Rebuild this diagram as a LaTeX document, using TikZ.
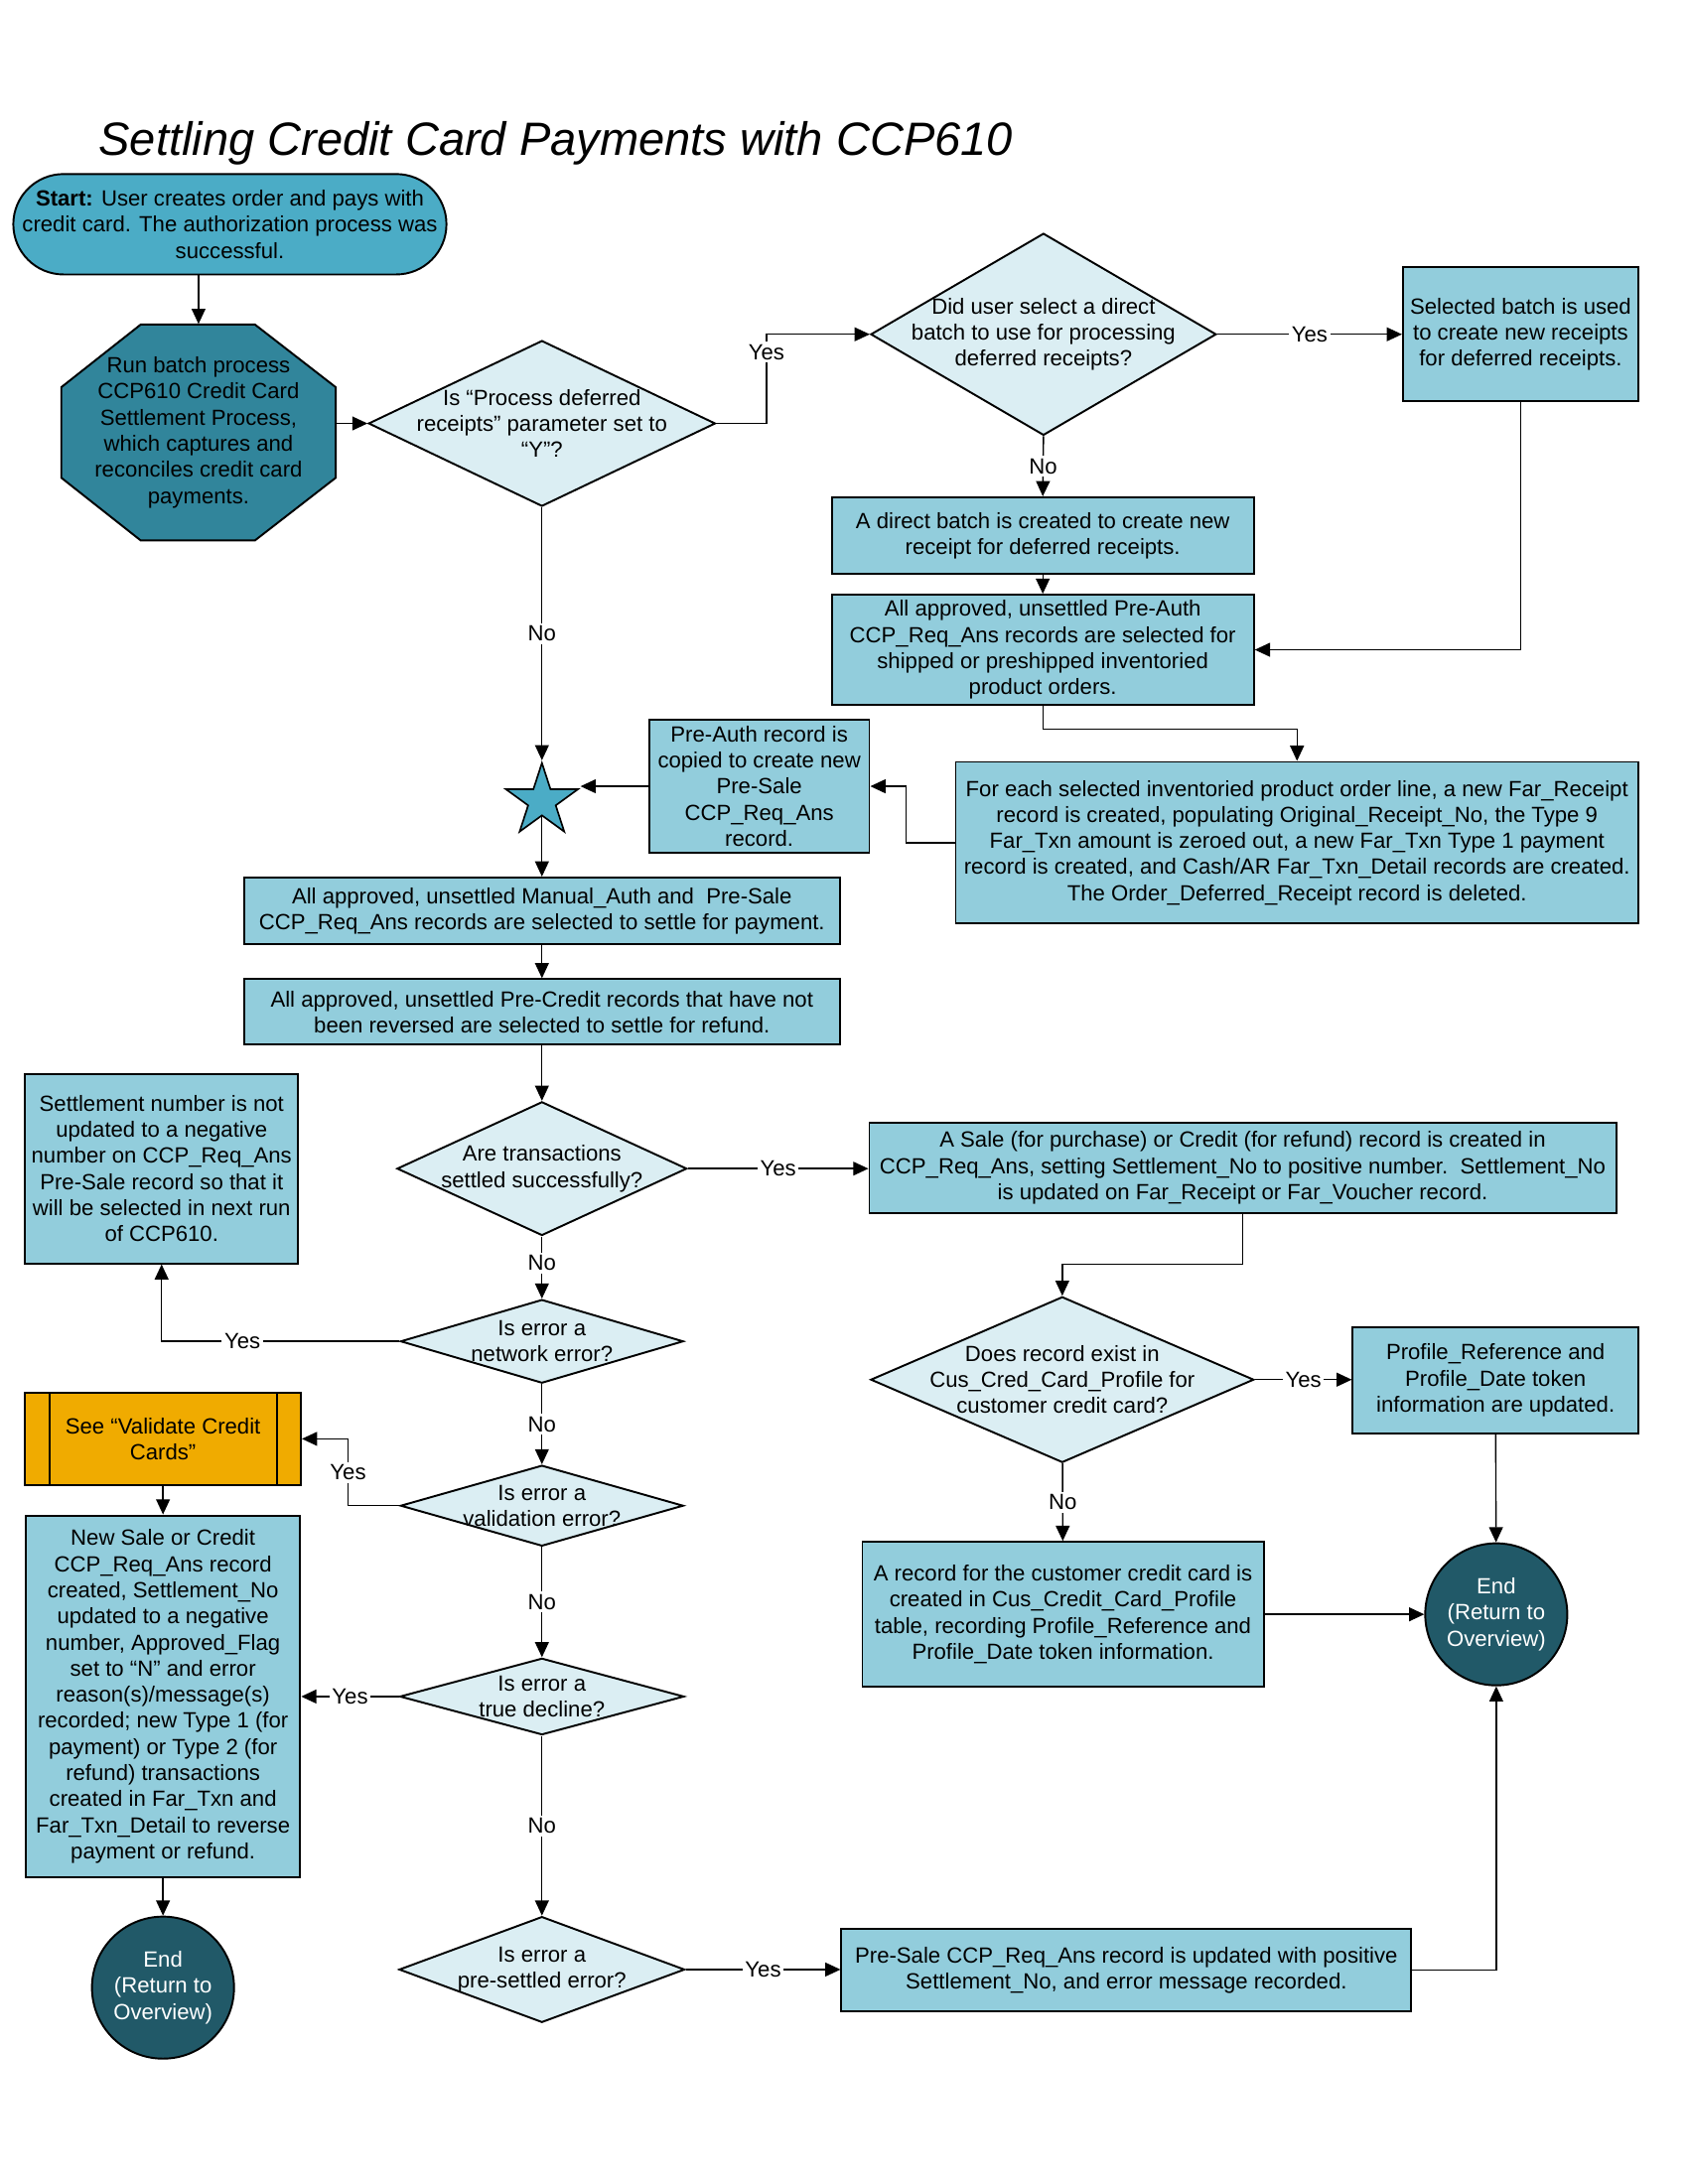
\documentclass[tikz,border=0pt]{standalone}
\usepackage{fontspec}
\setmainfont{Liberation Sans}
\usetikzlibrary{shapes.geometric,arrows.meta,positioning,calc}
\definecolor{startblue}{RGB}{75,172,198}
\definecolor{runteal}{RGB}{49,133,155}
\definecolor{procblue}{RGB}{146,205,220}
\definecolor{decfill}{RGB}{219,238,243}
\definecolor{endteal}{RGB}{33,89,104}
\definecolor{subgold}{RGB}{240,171,0}

\begin{document}
\begin{tikzpicture}[x=0.505bp, y=-0.505bp,
    every node/.style={font=\fontsize{8}{9.5}\selectfont, align=center},
    proc/.style 2 args={draw, fill=procblue, line width=0.7pt, inner sep=0pt,
        minimum width=#1*0.505bp, minimum height=#2*0.505bp},
    dec/.style 2 args={diamond, draw, fill=decfill, line width=0.7pt, inner sep=0pt,
        minimum width=#1*0.505bp, minimum height=#2*0.505bp},
    endc/.style={circle, draw, fill=endteal, text=white, line width=0.7pt,
        inner sep=0pt, minimum size=51.5bp},
    flow/.style={-{Triangle[length=5.5bp,width=5bp]}, line width=0.5pt},
    lbl/.style={fill=white, inner sep=1pt}]

\useasboundingbox (0,0) rectangle (1212,1568);

% Title
\node[anchor=west, font=\fontsize{17}{20}\selectfont\itshape] (title) at (64,103)
    {Settling Credit Card Payments with CCP610};

% Start terminal
\node[draw, fill=startblue, rounded corners=18.2bp, line width=0.7pt, inner sep=0pt,
    minimum width=157bp, minimum height=36.4bp] (start) at (165,161)
    {\textbf{Start:} User creates order and pays with\\credit card. The authorization process was\\successful.};

% Batch run (octagon)
\filldraw[fill=runteal, line width=0.7pt] (44,278) -- (101,233) -- (183,233) -- (241,278)
    -- (241,343) -- (183,388) -- (101,388) -- (44,343) -- cycle;
\node[inner sep=0pt, minimum width=99.5bp, minimum height=78.3bp] (run) at (142.5,310.5)
    {Run batch process\\CCP610 Credit Card\\Settlement Process,\\which captures and\\reconciles credit card\\payments.};

% Deferred receipts branch
\node[dec={249}{119}] (d1) at (389,304) {};
\node (d1t) at (d1) {Is “Process deferred\\receipts” parameter set to\\“Y”?};
\node[dec={248}{145}] (d2) at (749,240) {};
\node (d2t) at (d2) {Did user select a direct\\batch to use for processing\\deferred receipts?};
\node[proc={169}{96}] (sel) at (1091.5,240) {Selected batch is used\\to create new receipts\\for deferred receipts.};
\node[proc={303}{55}] (boxA) at (748.5,384.5) {A direct batch is created to create new\\receipt for deferred receipts.};
\node[proc={303}{79}] (boxB) at (748.5,466.5) {All approved, unsettled Pre-Auth\\CCP\_Req\_Ans records are selected for\\shipped or preshipped inventoried\\product orders.};
\node[proc={490}{116}] (foreach) at (931,605)
    {For each selected inventoried product order line, a new Far\_Receipt\\record is created, populating Original\_Receipt\_No, the Type 9\\Far\_Txn amount is zeroed out, a new Far\_Txn Type 1 payment\\record is created, and Cash/AR Far\_Txn\_Detail records are created.\\The Order\_Deferred\_Receipt record is deleted.};
\node[proc={158}{95}] (preauth) at (545,564.5) {Pre-Auth record is\\copied to create new\\Pre-Sale\\CCP\_Req\_Ans\\record.};
\node[star, star points=5, star point ratio=2.618, draw, fill=startblue, line width=0.6pt,
    inner sep=0pt, minimum size=27.5bp] (star) at (389,575) {};

% Settlement
\node[proc={428}{48}] (boxC) at (389,654) {All approved, unsettled Manual\_Auth and\ \ Pre-Sale\\CCP\_Req\_Ans records are selected to settle for payment.};
\node[proc={428}{47}] (boxD) at (389,726.5) {All approved, unsettled Pre-Credit records that have not\\been reversed are selected to settle for refund.};
\node[dec={208}{96}] (d3) at (389,839) {};
\node (d3t) at (d3) {Are transactions\\settled successfully?};
\node[proc={536}{65}] (boxE) at (892,838.5)
    {A Sale (for purchase) or Credit (for refund) record is created in\\CCP\_Req\_Ans, setting Settlement\_No to positive number.\ \ Settlement\_No\\is updated on Far\_Receipt or Far\_Voucher record.};
\node[dec={275}{119}] (d5) at (762.5,990.5) {};
\node (d5t) at (d5) {Does record exist in\\Cus\_Cred\_Card\_Profile for\\customer credit card?};
\node[proc={205}{76}] (boxF) at (1073.5,991) {Profile\_Reference and\\Profile\_Date token\\information are updated.};
\node[endc] (end1) at (1074,1159) {End\\(Return to\\Overview)};
\node[proc={288}{104}] (boxG) at (763,1159) {A record for the customer credit card is\\created in Cus\_Credit\_Card\_Profile\\table, recording Profile\_Reference and\\Profile\_Date token information.};

% Error checks
\node[dec={203}{60}] (d6) at (389,963) {};
\node (d6t) at (d6) {Is error a\\network error?};
\node[proc={196}{136}] (boxH) at (116,839) {Settlement number is not\\updated to a negative\\number on CCP\_Req\_Ans\\Pre-Sale record so that it\\will be selected in next run\\of CCP610.};
\node[dec={203}{58}] (d7) at (389,1081) {};
\node (d7t) at (d7) {Is error a\\validation error?};
\node[draw, fill=subgold, line width=0.7pt, inner sep=0pt, minimum width=100bp,
    minimum height=33.3bp] (boxI) at (117,1033) {See “Validate Credit\\Cards”};
\draw[line width=0.7pt] ([xshift=9.1bp]boxI.north west) -- ([xshift=9.1bp]boxI.south west);
\draw[line width=0.7pt] ([xshift=-9.1bp]boxI.north east) -- ([xshift=-9.1bp]boxI.south east);
\node[proc={197}{260}] (boxJ) at (117,1218) {New Sale or Credit\\CCP\_Req\_Ans record\\created, Settlement\_No\\updated to a negative\\number, Approved\_Flag\\set to “N” and error\\reason(s)/message(s)\\recorded; new Type 1 (for\\payment) or Type 2 (for\\refund) transactions\\created in Far\_Txn and\\Far\_Txn\_Detail to reverse\\payment or refund.};
\node[dec={204}{55}] (d8) at (389,1218) {};
\node (d8t) at (d8) {Is error a\\true decline?};
\node[endc] (end2) at (117,1427) {End\\(Return to\\Overview)};
\node[dec={205}{76}] (d9) at (389,1414) {};
\node (d9t) at (d9) {Is error a\\pre-settled error?};
\node[proc={409}{59}] (boxK) at (808.5,1414.5) {Pre-Sale CCP\_Req\_Ans record is updated with positive\\Settlement\_No, and error message recorded.};

% Connectors
\draw[flow] (start.south -| run.north) -- (run.north);
\draw[flow] (run.east |- d1.west) -- (d1.west);
\draw[flow] (d1.east) -- ++(36,0) |- node[lbl, pos=0.4] {Yes} (d2.west);
\draw[flow] (d2.east) -- node[lbl] {Yes} (sel.west);
\draw[flow] (d2.south) -- node[lbl] {No} (boxA.north);
\draw[flow] (boxA) -- (boxB);
\draw[flow] (sel.south) |- (boxB.east);
\draw[flow] (boxB.south) -- ++(0,17) -| (foreach.north);
\draw[flow] (foreach.west) -- ++(-35,0) |- (preauth.east);
\draw[flow] (preauth.west) -- (preauth.west -| star.outer point 5);
\draw[flow] (d1.south) -- node[lbl] {No} (star.north);
\draw[flow] (star.south) -- (boxC.north);
\draw[flow] (boxC) -- (boxD);
\draw[flow] (boxD) -- (d3);
\draw[flow] (d3.east) -- node[lbl] {Yes} (boxE.west |- d3.east);
\draw[flow] (boxE.south) -- ++(0,36) -| (d5.north);
\draw[flow] (d5.east) -- node[lbl] {Yes} (boxF.west |- d5.east);
\draw[flow] (boxF) -- (end1);
\draw[flow] (d5) -- node[lbl] {No} (boxG);
\draw[flow] (boxG) -- (end1);
\draw[flow] (d3) -- node[lbl, pos=0.43] {No} (d6);
\draw[flow] (d6.west) -| node[lbl, pos=0.33] {Yes} (boxH.south);
\draw[flow] (d6) -- node[lbl] {No} (d7);
\draw[flow] (d7.west) -- ++(-37,0) |- node[lbl, pos=0.25] {Yes} (boxI.east);
\draw[flow] (boxI) -- (boxJ);
\draw[flow] (d7) -- node[lbl] {No} (d8);
\draw[flow] (d8.west) -- node[lbl] {Yes} (boxJ.east |- d8.west);
\draw[flow] (boxJ) -- (end2);
\draw[flow] (d8) -- node[lbl] {No} (d9);
\draw[flow] (d9.east) -- node[lbl] {Yes} (boxK.west |- d9.east);
\draw[flow] (boxK.east) -| (end1.south);

\end{tikzpicture}
\end{document}
